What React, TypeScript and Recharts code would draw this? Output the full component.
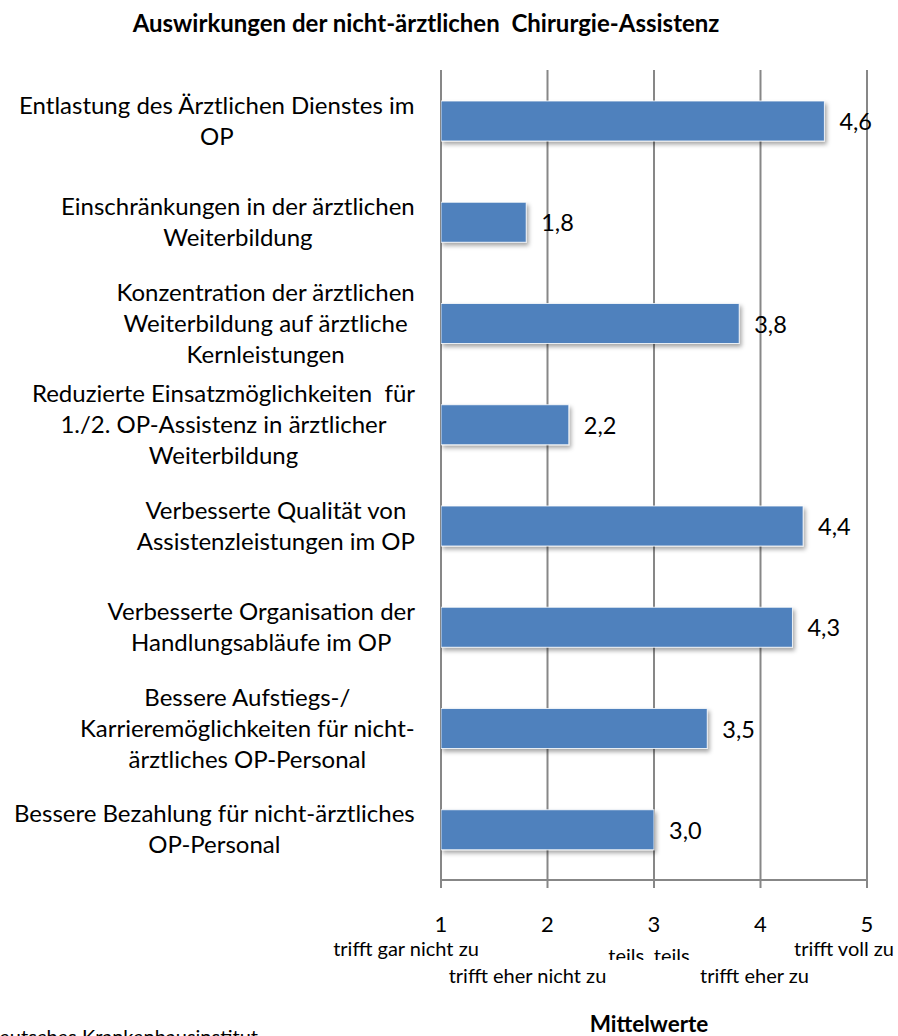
import React from 'react';
import { BarChart, Bar, XAxis, YAxis, CartesianGrid, LabelList } from 'recharts';

// ---------- data ----------
const categories: string[] = [
  'Entlastung des Ärztlichen Dienstes im\nOP',
  'Einschränkungen in der ärztlichen\nWeiterbildung',
  'Konzentration der ärztlichen\nWeiterbildung auf ärztliche\nKernleistungen',
  'Reduzierte Einsatzmöglichkeiten  für\n1./2. OP-Assistenz in ärztlicher\nWeiterbildung',
  'Verbesserte Qualität von\nAssistenzleistungen im OP',
  'Verbesserte Organisation der\nHandlungsabläufe im OP',
  'Bessere Aufstiegs-/\nKarrieremöglichkeiten für nicht-\närztliches OP-Personal',
  'Bessere Bezahlung für nicht-ärztliches\nOP-Personal',
];
const meanValues: number[] = [4.6, 1.8, 3.8, 2.2, 4.4, 4.3, 3.5, 3.0];
const xTicks: number[] = [1, 2, 3, 4, 5];
const xTickDescriptions: string[] = [
  'trifft gar nicht zu',
  'trifft eher nicht zu',
  'teils, teils',
  'trifft eher zu',
  'trifft voll zu',
];
const chartTitle = 'Auswirkungen der nicht-ärztlichen  Chirurgie-Assistenz';
const axisTitle = 'Mittelwerte';
const sourceText = 'Deutsches Krankenhausinstitut';

const data = categories.map((label, i) => ({ label, value: meanValues[i] }));

// ---------- style / layout ----------
const FONT = 'Lato, "Open Sans", sans-serif';
const CAT_SIZE = 24;
const LINE_H = 31;
const GRID = '#878787';
const BAR = '#4F81BD';
const W = 898;
const H = 1036;

// description layout per tick (horizontal nudge, vertical baseline offset, clipped)
const DESC_DX = [-35, -20, -5, -6, -23];
const DESC_DY = [66, 93, 73, 93, 66];
const DESC_CLIP = [false, false, true, false, false];

let measureCtx: CanvasRenderingContext2D | null = null;
function measure(text: string, font: string): number {
  if (!measureCtx) {
    const c = document.createElement('canvas');
    measureCtx = c.getContext('2d');
  }
  if (!measureCtx) return text.length * 10;
  measureCtx.font = font;
  return measureCtx.measureText(text).width;
}

const YTick = (props: any) => {
  const { x, y, payload } = props;
  const lines = String(payload.value).split('\n');
  const font = `${CAT_SIZE}px Lato`;
  const maxW = Math.max(...lines.map((l) => measure(l, font)));
  const right = x - 26;
  const cx = right - maxW / 2;
  const n = lines.length;
  const first = y - ((n - 1) / 2) * LINE_H + 8.5;
  return (
    <g>
      {lines.map((l, i) => (
        <text
          key={i}
          x={cx}
          y={first + i * LINE_H}
          textAnchor="middle"
          fontFamily={FONT}
          fontSize={CAT_SIZE}
          fill="#000"
          style={{ whiteSpace: 'pre' }}
        >
          {l}
        </text>
      ))}
    </g>
  );
};

const XTick = (props: any) => {
  const { x, y, payload, index } = props;
  const i = xTicks.indexOf(payload.value);
  const idx = i >= 0 ? i : index;
  const clipId = `descclip-${idx}`;
  return (
    <g>
      <text x={x} y={y + 42} textAnchor="middle" fontFamily={FONT} fontSize={22} fill="#000">
        {payload.value}
      </text>
      {DESC_CLIP[idx] && (
        <defs>
          <clipPath id={clipId}>
            <rect x={x - 100} y={y + 40} width={200} height={30} />
          </clipPath>
        </defs>
      )}
      <text
        x={x + DESC_DX[idx]}
        y={y + DESC_DY[idx]}
        textAnchor="middle"
        fontFamily={FONT}
        fontSize={20}
        fill="#000"
        clipPath={DESC_CLIP[idx] ? `url(#${clipId})` : undefined}
      >
        {xTickDescriptions[idx]}
      </text>
    </g>
  );
};

const BarShape = (props: any) => {
  const { x, y, width, height, index } = props;
  const id = `barshadow-${index}`;
  return (
    <g>
      <defs>
        <filter id={id} x="-10%" y="-30%" width="120%" height="180%">
          <feDropShadow dx="2" dy="3" stdDeviation="2" floodColor="#000" floodOpacity="0.35" />
        </filter>
      </defs>
      <rect x={x} y={y} width={width} height={height} fill={BAR} stroke="#ffffff" strokeOpacity={0.8} strokeWidth={1} filter={`url(#${id})`} />
    </g>
  );
};

const ValueLabel = (props: any) => {
  const { x, y, width, height, value } = props;
  return (
    <text
      x={x + width + 15}
      y={y + height / 2}
      dominantBaseline="central"
      fontFamily={FONT}
      fontSize={23.5}
      fill="#000"
    >
      {Number(value).toFixed(1).replace('.', ',')}
    </text>
  );
};

const AxisTitle = (props: any) => {
  const vb = props.viewBox || {};
  return (
    <text
      x={vb.x + vb.width / 2 - 5}
      y={vb.y + 152}
      textAnchor="middle"
      fontFamily={FONT}
      fontWeight="bold"
      fontSize={22.5}
      fill="#000"
    >
      {axisTitle}
    </text>
  );
};

export default function App() {
  return (
    <div style={{ position: 'relative', width: W, height: H, overflow: 'hidden', background: '#fff' }}>
      <style>{`body{margin:0;background:#fff}`}</style>
      <BarChart
        width={W}
        height={H}
        data={data}
        layout="vertical"
        margin={{ top: 70, right: 31, bottom: 0, left: 0 }}
        barSize={40}
      >
        <CartesianGrid horizontal={false} vertical stroke={GRID} strokeWidth={2} />
        <XAxis
          type="number"
          domain={[1, 5]}
          ticks={xTicks}
          interval={0}
          allowDataOverflow
          height={156}
          axisLine={{ stroke: GRID, strokeWidth: 2 }}
          tickLine={{ stroke: GRID, strokeWidth: 2 }}
          tickSize={8}
          tickMargin={2}
          tick={<XTick />}
          label={<AxisTitle />}
        />
        <YAxis
          type="category"
          dataKey="label"
          width={441}
          axisLine={false}
          tickLine={false}
          tickSize={0}
          tickMargin={0}
          interval={0}
          tick={<YTick />}
        />
        <Bar dataKey="value" isAnimationActive={false} shape={<BarShape />}>
          <LabelList dataKey="value" content={<ValueLabel />} />
        </Bar>
      </BarChart>
      <svg width={W} height={H} style={{ position: 'absolute', left: 0, top: 0, pointerEvents: 'none' }}>
        <text x={426} y={32} textAnchor="middle" fontFamily={FONT} fontWeight="bold" fontSize={24} fill="#000" style={{ whiteSpace: 'pre' }}>
          {chartTitle}
        </text>
        <text x={258} y={1044} textAnchor="end" fontFamily={FONT} fontSize={20} fill="#000">
          {sourceText}
        </text>
      </svg>
    </div>
  );
}
